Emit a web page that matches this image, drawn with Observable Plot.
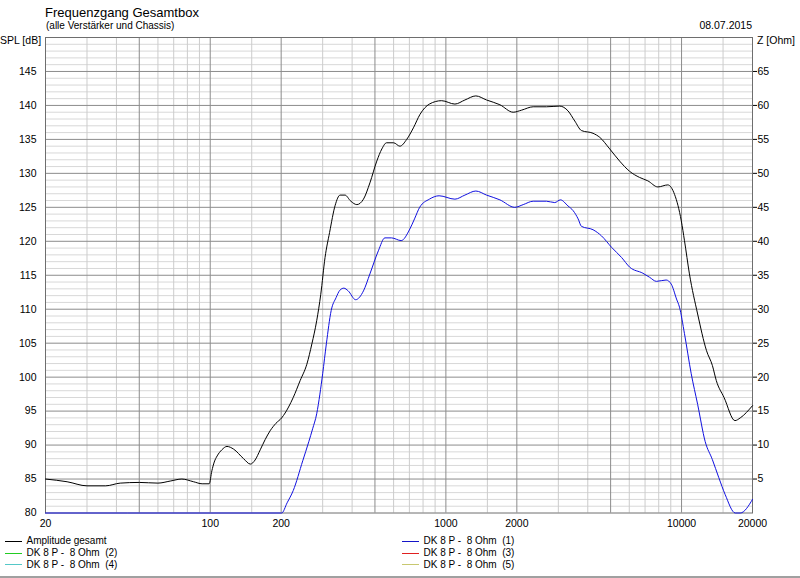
<!DOCTYPE html>
<html><head><meta charset="utf-8">
<script src="https://cdn.jsdelivr.net/npm/d3@7"></script>
<script src="https://cdn.jsdelivr.net/npm/@observablehq/plot@0.6"></script>
<style>
body{margin:0;background:#fff;font-family:"Liberation Sans",Arial,sans-serif;}
#wrap{position:relative;width:800px;height:578px;overflow:hidden;background:#fff;}
#wrap svg{position:absolute;left:0;top:0;}
.t{position:absolute;white-space:pre;color:#000;line-height:1;}
.sw{position:absolute;height:1px;width:17px;}
</style></head><body>
<div id="wrap"></div>
<script>
// ---- data ----
const ampFreq = [20,24.7,30,36,41.5,50,60,67.6,75.8,85,92.4,99,101.6,104,107,112,117.8,125.7,138.5,148,155,163,171,179.5,190,201,215,225,240.8,257,270,283,294.5,307,321,339,355.7,373,395,419,447,476,509,535,560,600,638,682,728,777,851,959,1092,1204,1340,1488,1695,1929,2093,2346,2671,3042,3297,3524,3760,4212,4498,4956,5462,6020,6634,7192,7933,8745,9339,9975,10290,10800,11700,12760,13520,14040,15150,16850,17740,20000];
const ampSpl = [85.0,84.6,84.0,84.0,84.4,84.5,84.4,84.7,85.0,84.6,84.3,84.3,86.2,87.5,88.4,89.3,89.8,89.4,88.0,87.2,87.8,89.3,90.8,92.1,93.2,94.0,95.6,97.0,99.5,101.9,104.9,108.3,112.2,117.6,121.3,125.3,126.8,126.8,125.9,125.4,126.2,128.6,131.8,133.6,134.5,134.5,134.0,135.0,136.7,138.7,140.2,140.7,140.2,140.8,141.4,140.8,140.1,139.0,139.3,139.8,139.8,139.9,139.2,137.7,136.3,135.9,135.3,133.6,131.8,130.3,129.4,128.9,128.0,128.3,126.9,123.0,120.1,115.2,109.3,103.9,101.7,99.5,97.0,93.6,94.0,95.8];
const dk1Freq = [20,100,201,212,225,247,262,272,283,292,300,311,326,342,355,369,385,414,447,476,517,551,588,646,703,736,774,851,936,1092,1204,1340,1488,1695,1960,2129,2346,2671,2896,3062,3297,3468,3640,3760,4212,4573,5050,5570,6020,6850,7318,7820,8600,9040,9520,9800,10290,10990,11700,12600,13500,14390,15320,16900,17740,20000];
const dk1Spl = [80,80,80,81.5,83.3,87.7,90.5,92.4,94.6,97.5,100.5,104.9,109.8,111.7,112.8,113.1,112.7,111.4,112.7,115.2,118.6,120.5,120.5,120.1,121.8,123.3,125.0,126.2,126.7,126.2,126.8,127.4,126.8,126.1,125.0,125.4,125.9,125.9,125.7,126.1,125.2,124.5,123.3,122.2,121.7,120.8,119.1,117.6,116.2,115.3,114.7,114.1,114.3,113.7,111.5,110.3,106.4,100.5,96.0,90.5,87.9,85.2,82.7,80.0,80.0,82.0];
const xTicks = [20,50,100,200,500,1000,2000,5000,10000,20000];
const yTicksLeft = [80,85,90,95,100,105,110,115,120,125,130,135,140,145];
const zTicks = [5,10,15,20,25,30,35,40,45,50,55,60,65];
const legendItems = ["Amplitude gesamt","DK 8 P -  8 Ohm  (1)","DK 8 P -  8 Ohm  (2)","DK 8 P -  8 Ohm  (3)","DK 8 P -  8 Ohm  (4)","DK 8 P -  8 Ohm  (5)"];
const legendColors = ["#000000","#1414c8","#22cc22","#e02020","#55c8c8","#c8c870"];

// ---- derived tables ----
const amp = ampFreq.map((f,i)=>({f, spl: ampSpl[i]}));
const dk1 = dk1Freq.map((f,i)=>({f, spl: dk1Spl[i]}));
const mult = [1,1.5,2,3,4,5,6,7,8,9];
const fGrid = [];
for (const dec of [10,100,1000,10000]) for (const m of mult) { const v = dec*m; if (v > 20 && v < 20000) fGrid.push(v); }
const fMajor = fGrid.filter(v => xTicks.includes(v));
const fMinor = fGrid.filter(v => !xTicks.includes(v));
const dbAll = d3.range(81,150);
const dbMajor = dbAll.filter(v => v % 5 === 0);
const dbMinor = dbAll.filter(v => v % 5 !== 0);

const chart = Plot.plot({
  width: 800, height: 535,
  marginLeft: 45, marginRight: 48, marginTop: 37, marginBottom: 22.5,
  x: {type: "log", domain: [20, 20000], label: null},
  y: {domain: [80, 150], label: null},
  style: {fontFamily: "'Liberation Sans', Arial, sans-serif", fontSize: "10.5px", background: "white", color: "#000"},
  marks: [
    Plot.ruleY(dbMinor, {stroke: "#d8d8d8"}),
    Plot.ruleX(fMinor, {stroke: "#cccccc"}),
    Plot.ruleY(dbMajor, {stroke: "#8c8c8c"}),
    Plot.ruleX(fMajor, {stroke: "#8c8c8c"}),
    Plot.frame({stroke: "#6e6e6e"}),
    Plot.axisX({ticks: xTicks, tickSize: 0, tickPadding: 7, tickFormat: d => String(d), label: null}),
    Plot.axisY({ticks: yTicksLeft, anchor: "left", tickSize: 0, tickPadding: 9, label: null}),
    Plot.axisY({ticks: zTicks.map(z => z + 80), anchor: "right", tickSize: 4, tickPadding: 1, tickFormat: d => String(d - 80), label: null}),
    Plot.line(dk1, {x: "f", y: "spl", stroke: "#1010e0", strokeWidth: 1, curve: "monotone-x"}),
    Plot.line(amp, {x: "f", y: "spl", stroke: "#000000", strokeWidth: 1, curve: "monotone-x"})
  ]
});
const wrap = document.getElementById("wrap");
wrap.appendChild(chart);

function addText(txt, left, baseline, size, opts = {}) {
  const d = document.createElement("div");
  d.className = "t";
  d.textContent = txt;
  d.style.fontSize = size + "px";
  d.style.top = (baseline - 0.8465 * size) + "px";
  if (opts.right != null) d.style.right = (800 - opts.right) + "px"; else d.style.left = left + "px";
  wrap.appendChild(d);
}
addText("Frequenzgang Gesamtbox", 45, 16.8, 13);
addText("(alle Verstärker und Chassis)", 46, 29.2, 10);
addText("08.07.2015", 0, 29, 10.5, {right: 752});
addText("SPL [dB]", 0, 43.8, 10.5);
addText("Z [Ohm]", 757, 43.8, 10.5);

// legend: two columns, three rows
const legX = [5, 402];
const legY = [541, 552.7, 564.3];
legendItems.forEach((name, i) => {
  const col = i % 2, row = Math.floor(i / 2);
  const s = document.createElement("div");
  s.className = "sw";
  s.style.left = legX[col] + "px";
  s.style.top = Math.round(legY[row]) + "px";
  s.style.background = legendColors[i];
  wrap.appendChild(s);
  addText(name, legX[col] + 21.5, legY[row] + 3.8, 10);
});
const bar = document.createElement("div");
bar.style.cssText = "position:absolute;left:0;top:576px;width:800px;height:2px;background:#a0a0a0;";
wrap.appendChild(bar);
</script>
</body></html>
